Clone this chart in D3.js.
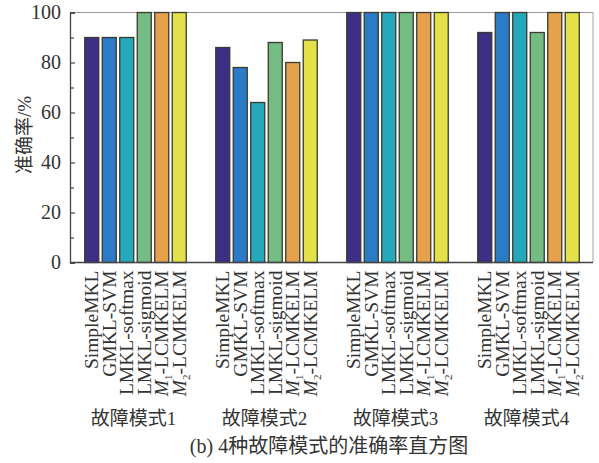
<!DOCTYPE html>
<html>
<head>
<meta charset="utf-8">
<script src="https://cdn.jsdelivr.net/npm/d3@7"></script>
<style>
  html, body { margin: 0; padding: 0; background: #fff; }
  svg { display: block; }
  text { font-family: "Liberation Serif", "Times New Roman", "Noto Sans CJK SC", serif; fill: #333; }
  .cjk { font-family: "Liberation Serif", "Noto Sans CJK SC", sans-serif; }
</style>
</head>
<body>
<svg id="chart" width="599" height="463"></svg>
<script>
const groups = ["故障模式1", "故障模式2", "故障模式3", "故障模式4"];
const methods = ["SimpleMKL", "GMKL-SVM", "LMKL-softmax", "LMKL-sigmoid", "M1-LCMKELM", "M2-LCMKELM"];
const colors = ["#3d2f86", "#2b7bc6", "#25a8b9", "#74bb84", "#e6a14d", "#e3e04a"];
const simpleMKL   = [90, 86, 100, 92];
const gmklSVM     = [90, 78, 100, 100];
const lmklSoftmax = [90, 64, 100, 100];
const lmklSigmoid = [100, 88, 100, 92];
const m1LCMKELM   = [100, 80, 100, 100];
const m2LCMKELM   = [100, 89, 100, 100];
const seriesValues = [simpleMKL, gmklSVM, lmklSoftmax, lmklSigmoid, m1LCMKELM, m2LCMKELM];
const yTicks = [0, 20, 40, 60, 80, 100];
const yMinorTicks = [10, 30, 50, 70, 90];
const yLabel = "准确率/%";
const caption = "(b) 4种故障模式的准确率直方图";

const svg = d3.select("#chart");
const mLeft = 70, mRight = 593, mTop = 12.5, mBottom = 262.5;

const x0 = d3.scaleBand().domain(groups).range([mLeft, mLeft + 4 * 131]).padding(0);
const x1 = d3.scaleBand().domain(methods).range([0, x0.bandwidth()]).paddingInner(0.2).paddingOuter(0.843);
const y = d3.scaleLinear().domain([0, 100]).range([mBottom, mTop]);

// frame: top and right borders (grey)
svg.append("line").attr("x1", mLeft).attr("x2", mRight).attr("y1", mTop).attr("y2", mTop)
  .attr("stroke", "#9a9a9a").attr("stroke-width", 1.2);
svg.append("line").attr("x1", mRight).attr("x2", mRight).attr("y1", mTop).attr("y2", mBottom)
  .attr("stroke", "#b5b5b5").attr("stroke-width", 1.2);

// bars
const gBars = svg.append("g");
groups.forEach((g, gi) => {
  methods.forEach((m, mi) => {
    const v = seriesValues[mi][gi];
    gBars.append("rect")
      .attr("x", x0(g) + x1(m))
      .attr("y", y(v))
      .attr("width", x1.bandwidth())
      .attr("height", y(0) - y(v))
      .attr("fill", colors[mi])
      .attr("stroke", "#3a3a2e")
      .attr("stroke-width", 1.3);
  });
});

// y axis
const yAxis = d3.axisLeft(y).tickValues(yTicks).tickSize(-5).tickPadding(9).tickFormat(d3.format("d"));
const ya = svg.append("g").attr("transform", `translate(${mLeft},0)`).call(yAxis);
ya.select(".domain").attr("stroke", "#444").attr("stroke-width", 1.3);
ya.selectAll(".tick line").attr("stroke", "#444").attr("stroke-width", 1.2);
ya.selectAll(".tick text").attr("font-size", 20).attr("fill", "#333")
  .style("font-family", "'Liberation Serif', serif");
const yMinor = d3.axisLeft(y).tickValues(yMinorTicks).tickSize(-4).tickFormat("");
const ym = svg.append("g").attr("transform", `translate(${mLeft},0)`).call(yMinor);
ym.select(".domain").remove();
ym.selectAll(".tick line").attr("stroke", "#444").attr("stroke-width", 1.2);

// x axis baseline
const xAxis = d3.axisBottom(x0).tickSize(0).tickFormat("");
const xa = svg.append("g").attr("transform", `translate(0,${mBottom})`).call(xAxis);
xa.select(".domain").attr("stroke", "#444").attr("stroke-width", 1.3).attr("d", `M${mLeft},0H${mRight}`);

// rotated method labels
groups.forEach((g) => {
  methods.forEach((m, mi) => {
    const cx = x0(g) + x1(m) + x1.bandwidth() / 2 + 6.5;
    const t = svg.append("text")
      .attr("transform", `translate(${cx},${mBottom + 8}) rotate(-90)`)
      .attr("text-anchor", "end")
      .attr("font-size", 19.5)
      .style("font-family", "'Liberation Serif', serif");
    const mm = m.match(/^M(\d)-(.*)$/);
    if (mm) {
      t.append("tspan").attr("font-style", "italic").text("M");
      t.append("tspan").attr("font-size", 11).attr("dy", 4).text(mm[1]);
      t.append("tspan").attr("dy", -4).text("-" + mm[2]);
    } else {
      t.text(m);
    }
  });
});

// group labels
svg.selectAll(".glabel").data(groups).enter().append("text")
  .attr("class", "glabel cjk")
  .attr("x", d => x0(d) + x0.bandwidth() / 2 - 2)
  .attr("y", 425)
  .attr("text-anchor", "middle")
  .attr("font-size", 19)
  .text(d => d);

// y label
svg.append("text")
  .attr("class", "cjk")
  .attr("transform", `translate(31,135) rotate(-90)`)
  .attr("text-anchor", "middle")
  .attr("font-size", 19)
  .text(yLabel);

// caption
svg.append("text")
  .attr("class", "cjk")
  .attr("x", 329)
  .attr("y", 453)
  .attr("text-anchor", "middle")
  .attr("font-size", 20)
  .text(caption);
</script>
</body>
</html>
